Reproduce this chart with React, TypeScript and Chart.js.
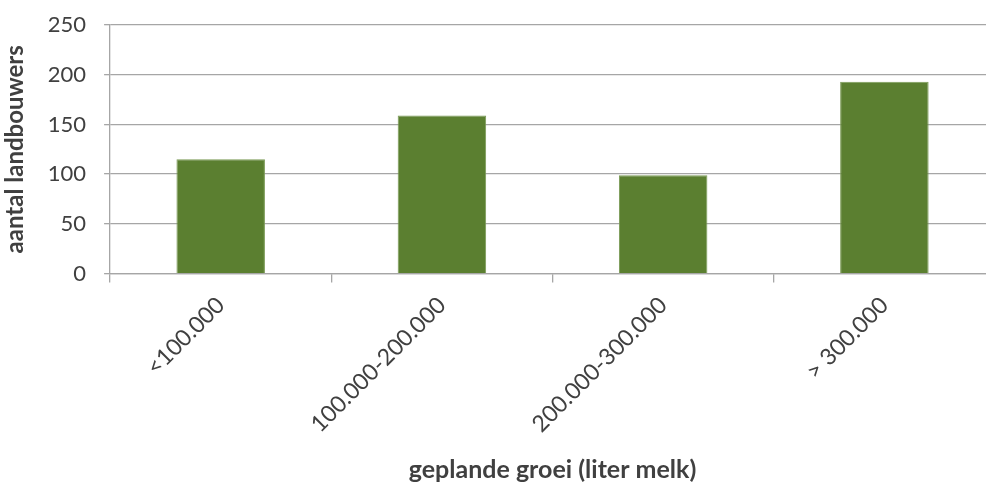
import React, { useEffect, useRef } from "react";
import { Chart, registerables } from "chart.js";

Chart.register(...registerables);

const categories: string[] = ["<100.000", "100.000-200.000", "200.000-300.000", "> 300.000"];
const farmers: number[] = [115, 159, 99, 193];
const yTicks: number[] = [0, 50, 100, 150, 200, 250];
const xTitle = "geplande groei (liter melk)";
const yTitle = "aantal landbouwers";

const FONT = "Lato, 'Open Sans', sans-serif";
const TEXT = "#404040";
const GRID = "#a6a6a6";

export default function App() {
  const ref = useRef<HTMLCanvasElement | null>(null);

  useEffect(() => {
    document.body.style.margin = "0";
    document.body.style.overflow = "hidden";
    if (!ref.current) return;
    const chart = new Chart(ref.current, {
      type: "bar",
      data: {
        labels: categories,
        datasets: [
          {
            data: farmers,
            backgroundColor: "#5b7f30",
            borderColor: "#7a9a55",
            borderWidth: 1,
            categoryPercentage: 1,
            barPercentage: 0.4,
          },
        ],
      },
      options: {
        responsive: false,
        animation: false,
        layout: { padding: { top: 0, right: 5, left: 1, bottom: -3 } },
        plugins: { legend: { display: false }, tooltip: { enabled: false } },
        scales: {
          x: {
            grid: {
              offset: true,
              drawOnChartArea: false,
              drawTicks: true,
              tickLength: 9,
              color: GRID,
              lineWidth: 1.3,
            },
            border: { color: GRID, width: 1.3 },
            ticks: {
              color: TEXT,
              font: { family: FONT, size: 23 },
              maxRotation: 45,
              minRotation: 45,
              padding: 9,
              labelOffset: 0,
            },
            title: {
              display: true,
              text: xTitle,
              color: TEXT,
              font: { family: FONT, size: 25, weight: "bold" },
              padding: { top: 8, bottom: 0 },
            },
          },
          y: {
            min: 0,
            max: 250,
            afterBuildTicks: (axis: any) => {
              axis.ticks = yTicks.map((v) => ({ value: v }));
            },
            afterFit: (axis: any) => {
              axis.paddingTop = 25;
              axis.paddingBottom = 13;
            },
            grid: {
              color: GRID,
              lineWidth: 1.3,
              tickLength: 6,
            },
            border: { color: GRID, width: 1.3 },
            ticks: {
              color: TEXT,
              font: { family: FONT, size: 22 },
              padding: 18,
            },
            title: {
              display: true,
              text: yTitle,
              color: TEXT,
              font: { family: FONT, size: 24, weight: "bold" },
              padding: { top: 0, bottom: 0 },
            },
          },
        },
      },
    });
    return () => chart.destroy();
  }, []);

  return (
    <div style={{ position: "absolute", left: 0, top: 0, width: 986, height: 482, overflow: "hidden", background: "#fff" }}>
      <canvas ref={ref} width={1000} height={482} style={{ width: 1000, height: 482, display: "block" }} />
    </div>
  );
}
